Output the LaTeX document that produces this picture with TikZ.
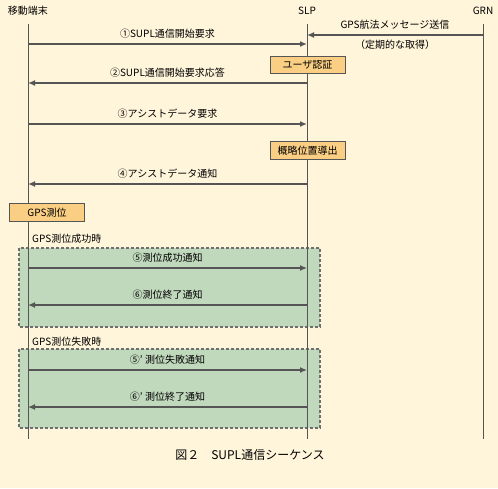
\documentclass[tikz,border=0pt]{standalone}
\usepackage{fontspec}
\setmainfont{Noto Sans CJK JP}
\usetikzlibrary{arrows.meta,positioning}
\definecolor{fondo}{RGB}{255,245,219}
\definecolor{caja}{RGB}{250,207,132}
\definecolor{verde}{RGB}{192,216,188}
\definecolor{linea}{RGB}{85,85,85}

\begin{document}
\begin{tikzpicture}[x=1pt, y=-1pt,
    font=\fontsize{10}{12}\selectfont,
    vida/.style={draw=linea, line width=0.9pt},
    msg/.style={draw=linea, line width=1.3pt, -{Latex[length=7pt,width=6pt]}},
    proc/.style={draw=linea, fill=caja, line width=0.8pt, minimum width=75pt, minimum height=17.5pt, inner sep=0pt},
    zona/.style={draw=linea!85, fill=verde, dash pattern=on 3pt off 2pt, line width=1.1pt},
    etq/.style={midway, yshift=10pt, inner sep=0pt},
    etqb/.style={midway, yshift=-10pt, inner sep=0pt}]

    % Fondo
    \fill[fondo] (0,0) rectangle (498,488);

    % Zonas de exito y fallo
    \draw[zona] (19,248) rectangle (320,327);
    \draw[zona] (19,349) rectangle (320,428);
    \node[anchor=west, inner sep=0pt] (exito) at (32,239) {GPS測位成功時};
    \node[anchor=west, inner sep=0pt] (fallo) at (32,342) {GPS測位失敗時};

    % Cabeceras y lineas de vida
    \node (movil) at (28,11) {移動端末};
    \node (slp) at (307,11) {SLP};
    \node (grn) at (483,11) {GRN};
    \coordinate (movil0) at (28,24);  \coordinate (movil9) at (28,439);
    \coordinate (slp0) at (307,24);   \coordinate (slp9) at (307,439);
    \coordinate (grn0) at (483,24);   \coordinate (grn9) at (483,439);
    \draw[vida] (movil0) -- (movil9);
    \draw[vida] (slp0) -- (slp9);
    \draw[vida] (grn0) -- (grn9);

    % Puntos de los mensajes
    \foreach \n/\y in {1/44,2/83,3/124,4/184,5/268,6/305,7/370,8/407} {
      \coordinate (m\n) at (28,\y);
      \coordinate (s\n) at (307,\y);
    }
    \coordinate (g0) at (483,35);
    \coordinate (s0) at (307,35);

    % Procesos
    \node[proc] (auth) at (307.5,65) {ユーザ認証};
    \node[proc] (aprox) at (307.5,150.5) {概略位置導出};
    \node[proc] (gps) at (47,212.5) {GPS測位};

    % Mensajes
    \draw[msg] (g0) -- node[etq] {GPS航法メッセージ送信} node[etqb] {（定期的な取得）} (s0);
    \draw[msg] (m1) -- node[etq] {①SUPL通信開始要求} (s1);
    \draw[msg] (s2) -- node[etq] {②SUPL通信開始要求応答} (m2);
    \draw[msg] (m3) -- node[etq] {③アシストデータ要求} (s3);
    \draw[msg] (s4) -- node[etq] {④アシストデータ通知} (m4);
    \draw[msg] (m5) -- node[etq] {⑤測位成功通知} (s5);
    \draw[msg] (s6) -- node[etq] {⑥測位終了通知} (m6);
    \draw[msg] (m7) -- node[etq] {⑤' 測位失敗通知} (s7);
    \draw[msg] (s8) -- node[etq] {⑥' 測位終了通知} (m8);

    % Titulo
    \node[font=\fontsize{12}{14}\selectfont] (titulo) at (250,455) {図２　SUPL通信シーケンス};
\end{tikzpicture}
\end{document}
